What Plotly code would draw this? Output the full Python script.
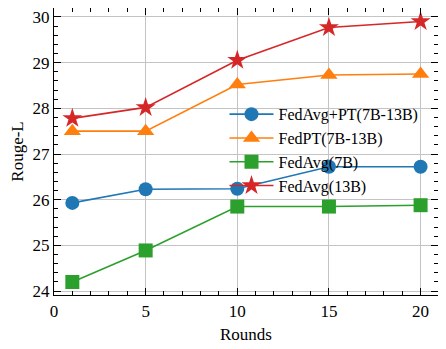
import plotly.graph_objects as go

rounds = [1, 5, 10, 15, 20]

fedavg_pt = [25.93, 26.23, 26.24, 26.72, 26.72]
fedpt = [27.50, 27.50, 28.52, 28.73, 28.75]
fedavg_7b = [24.20, 24.89, 25.85, 25.85, 25.88]
fedavg_13b = [27.78, 28.02, 29.05, 29.77, 29.90]

names = ['FedAvg+PT(7B-13B)', 'FedPT(7B-13B)', 'FedAvg(7B)', 'FedAvg(13B)']
colors = ['#1f77b4', '#ff7f0e', '#2ca02c', '#d62728']
symbols = ['circle', 'triangle-up', 'square', 'star']
sizes = [14, 15, 14, 15]

SERIF = 'Liberation Serif, Times New Roman, serif'

fig = go.Figure()

for name, vals, c, s, sz in zip(names, [fedavg_pt, fedpt, fedavg_7b, fedavg_13b], colors, symbols, sizes):
    fig.add_trace(go.Scatter(
        x=rounds, y=vals,
        mode='lines+markers',
        name=name,
        line=dict(color=c, width=1.6),
        marker=dict(symbol=s, size=sz, color=c, line=dict(width=0)),
    ))

axis_style = dict(
    showline=True, linecolor='black', linewidth=1.2, mirror='allticks',
    ticks='inside', ticklen=7, tickwidth=1, tickcolor='black',
    showgrid=True, gridcolor='#c4c4c4', gridwidth=1,
    zeroline=False, automargin=False, ticklabeloverflow='allow',
    tickfont=dict(family=SERIF, size=17, color='black'),
)

# the page body has an 8px margin, so the figure is sized to fit the window
fig.update_layout(
    width=438, height=341,
    margin=dict(l=46, r=8, t=0, b=54),
    paper_bgcolor='white', plot_bgcolor='white',
    font=dict(family=SERIF, size=16, color='black'),
    xaxis=dict(
        range=[0, 20.95], tickvals=[0, 5, 10, 15, 20],
        minor=dict(ticks='inside', ticklen=3.5, dtick=1, tick0=0, tickcolor='black', showgrid=False),
        title=dict(text='Rounds', standoff=8, font=dict(family=SERIF, size=17)),
        **axis_style
    ),
    yaxis=dict(
        range=[23.915, 30.195], tickvals=[24, 25, 26, 27, 28, 29, 30],
        minor=dict(ticks='inside', ticklen=3.5, dtick=0.2, tick0=24, tickcolor='black', showgrid=False),
        title=dict(text='Rouge-L', standoff=13, font=dict(family=SERIF, size=17)),
        **axis_style
    ),
    legend=dict(
        x=0.444, y=0.689, xanchor='left', yanchor='top',
        bgcolor='rgba(0,0,0,0)', itemwidth=44,
        font=dict(family=SERIF, size=16, color='black'),
        tracegroupgap=0,
    ),
    showlegend=True,
)

fig.write_html("out.html")
